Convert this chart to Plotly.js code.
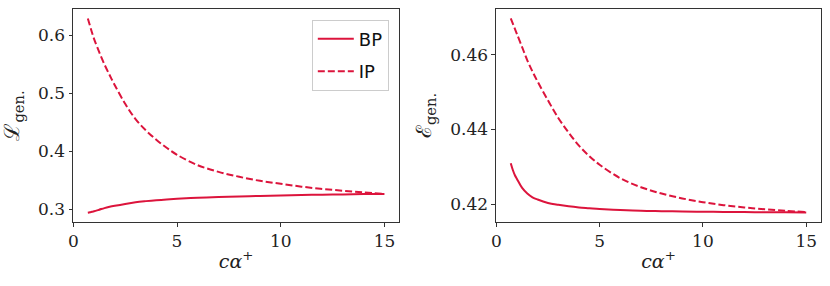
<!DOCTYPE html>
<html>
<head>
<meta charset="utf-8">
<script src="https://cdn.plot.ly/plotly-3.0.1.min.js"></script>
<style>html,body{margin:0;padding:0;background:#fff;}#chart{width:830px;height:286px;}</style>
</head>
<body>
<div id="chart"></div>
<script>
// c·alpha^+ values
const xVals = [0.7, 0.8, 0.9, 1.0, 1.25, 1.5, 1.75, 2.0, 2.5, 3.0, 3.5, 4.0, 4.5, 5.0, 6.0, 7.0, 8.0, 9.0, 10.0, 11.0, 12.0, 13.0, 14.0, 15.0];
// Left panel: L_gen.
const lossBP = [0.2940, 0.2947, 0.2956, 0.2965, 0.2992, 0.3020, 0.3042, 0.3060, 0.3092, 0.3120, 0.3140, 0.3157, 0.3170, 0.3180, 0.3198, 0.3210, 0.3221, 0.3230, 0.3238, 0.3245, 0.3251, 0.3256, 0.3261, 0.3265];
const lossIP = [0.6290, 0.6170, 0.6050, 0.5940, 0.5710, 0.5500, 0.5315, 0.5140, 0.4820, 0.4555, 0.4360, 0.4200, 0.4060, 0.3940, 0.3760, 0.3645, 0.3560, 0.3490, 0.3440, 0.3390, 0.3350, 0.3320, 0.3290, 0.3266];
// Right panel: E_gen.
const errBP = [0.4310, 0.4292, 0.4278, 0.4268, 0.4244, 0.4229, 0.4219, 0.4213, 0.4204, 0.4199, 0.4195, 0.4192, 0.4190, 0.4188, 0.4185, 0.4183, 0.41820, 0.41810, 0.41805, 0.41800, 0.41795, 0.41790, 0.41788, 0.41786];
const errIP = [0.4697, 0.4683, 0.4669, 0.4655, 0.4620, 0.4585, 0.4555, 0.4528, 0.4478, 0.4431, 0.4392, 0.4357, 0.4329, 0.4306, 0.4270, 0.4246, 0.4229, 0.4216, 0.4206, 0.4198, 0.4192, 0.4187, 0.4183, 0.41794];
const seriesNames = ["BP", "IP"];
const xTicks = [0, 5, 10, 15];
const leftYTicks = [0.3, 0.4, 0.5, 0.6];
const leftYLabels = ["0.3", "0.4", "0.5", "0.6"];
const rightYTicks = [0.42, 0.44, 0.46];
const rightYLabels = ["0.42", "0.44", "0.46"];

const red = "#DC143C";
const serif = "DejaVu Serif";

const traces = [
  {x: xVals, y: lossBP, type: "scatter", mode: "lines", name: seriesNames[0], legendgroup: "a",
   line: {color: red, width: 2, shape: "spline", smoothing: 1}, xaxis: "x", yaxis: "y"},
  {x: xVals, y: lossIP, type: "scatter", mode: "lines", name: seriesNames[1], legendgroup: "b",
   line: {color: red, width: 2, dash: "7px,3px", shape: "spline", smoothing: 1}, xaxis: "x", yaxis: "y"},
  {x: xVals, y: errBP, type: "scatter", mode: "lines", name: seriesNames[0], showlegend: false,
   line: {color: red, width: 2, shape: "spline", smoothing: 1}, xaxis: "x2", yaxis: "y2"},
  {x: xVals, y: errIP, type: "scatter", mode: "lines", name: seriesNames[1], showlegend: false,
   line: {color: red, width: 2, dash: "7px,3px", shape: "spline", smoothing: 1}, xaxis: "x2", yaxis: "y2"}
];

function xAxis(domain, anchor) {
  return {
    domain: domain, anchor: anchor, range: [-0.015, 15.715],
    tickmode: "array", tickvals: xTicks, ticktext: xTicks.map(String),
    ticks: "outside", ticklen: 3.5, tickwidth: 1, tickcolor: "#333",
    showline: true, mirror: true, linecolor: "#333", linewidth: 1,
    showgrid: false, zeroline: false,
    tickfont: {family: serif, size: 17, color: "#222"},
    title: {text: "<i>cα</i><sup>+</sup>", font: {family: serif, size: 19, color: "#222"}, standoff: 4}
  };
}
function yAxis(range, tv, tt, title, anchor) {
  return {
    anchor: anchor, range: range, domain: [0, 1],
    tickmode: "array", tickvals: tv, ticktext: tt,
    ticks: "outside", ticklen: 3.5, tickwidth: 1, tickcolor: "#333",
    showline: true, mirror: true, linecolor: "#333", linewidth: 1,
    showgrid: false, zeroline: false,
    tickfont: {family: serif, size: 17, color: "#222"},
    title: {text: title, font: {family: serif, size: 21, color: "#222"}, standoff: 12}
  };
}

const layout = {
  width: 830, height: 286,
  margin: {l: 72.7, r: 9.3, t: 9.3, b: 64.3},
  paper_bgcolor: "#fff", plot_bgcolor: "#fff",
  font: {family: serif},
  showlegend: true,
  xaxis: xAxis([0, 0.4362], "y"),
  xaxis2: xAxis([0.5655, 1], "y2"),
  yaxis: yAxis([0.278, 0.6455], leftYTicks, leftYLabels, "ℒ<sub>gen.</sub>", "x"),
  yaxis2: yAxis([0.4153, 0.4722], rightYTicks, rightYLabels, "ℰ<sub>gen.</sub>", "x2"),
  legend: {
    x: 0.4222, y: 0.95, xanchor: "right", yanchor: "top",
    bgcolor: "rgba(255,255,255,0.8)", bordercolor: "#cccccc", borderwidth: 1,
    font: {family: "DejaVu Sans", size: 18, color: "#111"},
    traceorder: "grouped", tracegroupgap: 6, itemwidth: 36
  }
};

Plotly.newPlot("chart", traces, layout, {staticPlot: true, displayModeBar: false});
</script>
</body>
</html>
